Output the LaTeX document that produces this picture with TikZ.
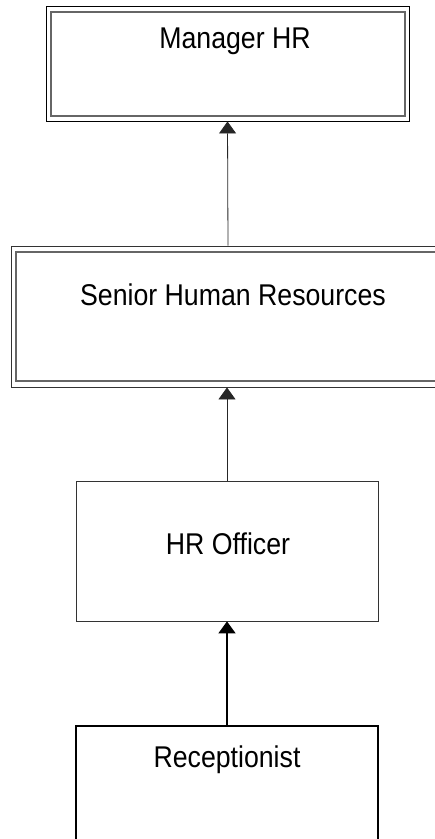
\documentclass[tikz,border=0pt]{standalone}
\usepackage{fontspec}
\setmainfont[FakeStretch=0.89]{Liberation Sans}
\usetikzlibrary{arrows.meta,calc}
\begin{document}
\begin{tikzpicture}[x=1pt,y=-1pt,
  box/.style={draw=black,line width=0.9pt,rectangle,inner sep=0pt,minimum width=#1},
  box/.default=302pt,
  innerbox/.style={draw=black!60,line width=1.1pt,rectangle,inner sep=0pt},
  lbl/.style={font=\fontsize{30}{35}\selectfont,inner sep=0pt,anchor=base},
  conn/.style={draw=black!85,line width=0.8pt,-{Triangle[width=17pt,length=12pt]}},
  connthick/.style={conn,draw=black,line width=1.8pt}]
\useasboundingbox (0,0) rectangle (435,839);
\clip (0,0) rectangle (435,839);
% Manager HR
\node[box=363pt,minimum height=115pt] (mgr) at (227.5,63.5) {};
\node[innerbox,minimum width=354pt,minimum height=104pt] (mgrin) at (228,64) {};
\node[lbl] (mgrtxt) at (235,48) {Manager HR};
% Senior Human Resources
\node[box=434pt,minimum height=141pt,draw=black!80] (sen) at (228,316.5) {};
\node[innerbox,minimum width=424pt,minimum height=129pt] (senin) at (228,316.5) {};
\node[lbl] (sentxt) at (233,305) {Senior Human Resources};
% HR Officer
\node[box,minimum height=140pt,draw=black!80,line width=0.8pt] (hr) at (227,551) {};
\node[lbl] (hrtxt) at (228,554) {HR Officer};
% Receptionist
\node[box,minimum height=150pt,line width=1.1pt] (rec) at (227,801) {};
\node[lbl] (rectxt) at (227,767) {Receptionist};
% connectors
\draw[conn] (sen.north) -- (mgr.south);
\draw[conn] (hr.north) -- (hr.north |- sen.south);
\draw[connthick] (rec.north) -- (hr.south);
\end{tikzpicture}
\end{document}
